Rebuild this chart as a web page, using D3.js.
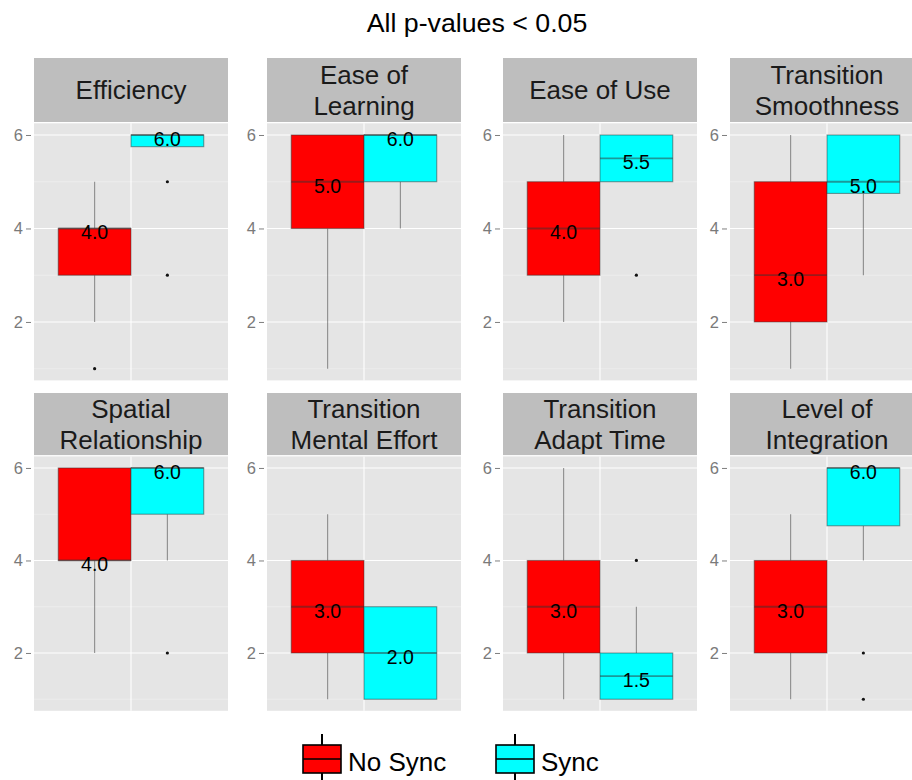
<!DOCTYPE html>
<html><head><meta charset="utf-8">
<script src="https://cdn.jsdelivr.net/npm/d3@7/dist/d3.min.js"></script>
<style>body{margin:0;background:#fff}svg{display:block;font-family:"Liberation Sans",Arial,sans-serif}</style>
</head><body><svg id="c" width="912" height="780"></svg>
<script>
// ---------- data ----------
const chartTitle = "All p-values < 0.05";
const facets = ["Efficiency", "Ease of\nLearning", "Ease of Use", "Transition\nSmoothness",
                "Spatial\nRelationship", "Transition\nMental Effort", "Transition\nAdapt Time", "Level of\nIntegration"];
const groups = ["No Sync", "Sync"];
// [lower whisker, Q1, median, Q3, upper whisker]
const noSyncStats = [[2,3,4,4,5],[1,4,5,6,6],[2,3,4,5,6],[1,2,3,5,6],
                     [2,4,4,6,6],[1,2,3,4,5],[1,2,3,4,6],[1,2,3,4,5]];
const syncStats   = [[5.75,5.75,6,6,6],[4,5,6,6,6],[5,5,5.5,6,6],[3,4.75,5,6,6],
                     [4,5,6,6,6],[1,1,2,3,3],[1,1,1.5,2,3],[4,4.75,6,6,6]];
const noSyncOutliers = [[1],[],[],[],[],[],[],[]];
const syncOutliers   = [[5,3],[],[3],[],[2],[],[4],[2,1]];
const yTicks = [2,4,6];
const yMinorTicks = [1,3,5];
const yDomain = [0.75, 6.25];

// ---------- layout / style ----------
const groupColors = ["#ff0000", "#00ffff"];
const colCenters = [131, 364, 600, 827];
const halfW = 97;
const rowsLayout = [
  {stripTop: 58, panelTop: 123.3, panelBottom: 380.4},
  {stripTop: 393, panelTop: 456.4, panelBottom: 710.8}
];
const lineCol = "rgba(51,51,51,0.5)";

const svg = d3.select("#c");

svg.append("text")
  .attr("transform", "translate(477,32) scale(1.07,1)")
  .attr("text-anchor", "middle")
  .attr("font-size", 25)
  .attr("fill", "#000")
  .text(chartTitle);

const statsByGroup = [noSyncStats, syncStats];
const outByGroup = [noSyncOutliers, syncOutliers];

facets.forEach((name, i) => {
  const r = Math.floor(i / 4), c = i % 4;
  const R = rowsLayout[r];
  const left = colCenters[c] - halfW, right = colCenters[c] + halfW;
  const y = d3.scaleLinear().domain(yDomain).range([R.panelBottom, R.panelTop]);
  const x = d3.scaleLinear().domain([0.4, 1.6]).range([left, right]);
  const g = svg.append("g");

  // strip
  const stripBottom = R.panelTop - 1.3;
  g.append("rect").attr("x", left).attr("y", R.stripTop)
    .attr("width", right - left).attr("height", stripBottom - R.stripTop)
    .attr("fill", "#bebebe");
  const lines = name.split("\n");
  const sc = (R.stripTop + stripBottom) / 2;
  lines.forEach((ln, k) => {
    g.append("text")
      .attr("x", colCenters[c])
      .attr("y", sc + (k - (lines.length - 1) / 2) * 31 + 9)
      .attr("text-anchor", "middle")
      .attr("font-size", 26)
      .attr("fill", "#1a1a1a")
      .text(ln);
  });

  // panel
  g.append("rect").attr("x", left).attr("y", R.panelTop)
    .attr("width", right - left).attr("height", R.panelBottom - R.panelTop)
    .attr("fill", "#e5e5e5");
  g.selectAll(".minor").data(yMinorTicks).enter().append("line")
    .attr("x1", left).attr("x2", right)
    .attr("y1", d => y(d)).attr("y2", d => y(d))
    .attr("stroke", "#f2f2f2").attr("stroke-width", 0.6);
  g.selectAll(".major").data(yTicks).enter().append("line")
    .attr("x1", left).attr("x2", right)
    .attr("y1", d => y(d)).attr("y2", d => y(d))
    .attr("stroke", "#ffffff").attr("stroke-width", 1.1);
  g.append("line").attr("x1", x(1)).attr("x2", x(1))
    .attr("y1", R.panelTop).attr("y2", R.panelBottom)
    .attr("stroke", "#ffffff").attr("stroke-width", 1.1);

  // axis
  const ax = g.append("g").attr("transform", `translate(${left - 3},0)`)
    .call(d3.axisLeft(y).tickValues(yTicks).tickSize(5).tickPadding(3).tickFormat(d3.format("d")));
  ax.select(".domain").remove();
  ax.selectAll("line").attr("stroke", "#7f7f7f");
  ax.selectAll("text").attr("fill", "#7a7a7a").attr("font-size", 16.5)
    .attr("font-family", '"Liberation Sans",Arial,sans-serif');

  // boxes
  const labels = [];
  groups.forEach((gname, gi) => {
    const [lo, q1, med, q3, hi] = statsByGroup[gi][i];
    const xc = x(1 + (gi - 0.5) * 0.45);
    const bw = x(0.45) - x(0);
    g.append("line").attr("x1", xc).attr("x2", xc).attr("y1", y(hi)).attr("y2", y(q3))
      .attr("stroke", lineCol).attr("stroke-width", 1.1);
    g.append("line").attr("x1", xc).attr("x2", xc).attr("y1", y(q1)).attr("y2", y(lo))
      .attr("stroke", lineCol).attr("stroke-width", 1.1);
    g.append("rect").attr("x", xc - bw / 2).attr("y", y(q3))
      .attr("width", bw).attr("height", Math.max(0, y(q1) - y(q3)))
      .attr("fill", groupColors[gi]).attr("stroke", lineCol).attr("stroke-width", 1.1);
    g.append("line").attr("x1", xc - bw / 2).attr("x2", xc + bw / 2)
      .attr("y1", y(med)).attr("y2", y(med))
      .attr("stroke", lineCol).attr("stroke-width", 1.8);
    outByGroup[gi][i].forEach(o => {
      g.append("circle").attr("cx", xc).attr("cy", y(o)).attr("r", 1.6).attr("fill", "#111");
    });
    labels.push({x: xc, y: y(med), t: d3.format(".1f")(med)});
  });
  labels.forEach(l => {
    g.append("text").attr("x", l.x).attr("y", l.y + 11)
      .attr("text-anchor", "middle").attr("font-size", 19.5).attr("fill", "#000")
      .text(l.t);
  });
});

// legend
const legendKeyX = [303, 496];
groups.forEach((gname, gi) => {
  const kx = legendKeyX[gi];
  const lg = svg.append("g");
  lg.append("line").attr("x1", kx + 19).attr("x2", kx + 19).attr("y1", 734).attr("y2", 790)
    .attr("stroke", "#000").attr("stroke-width", 2);
  lg.append("rect").attr("x", kx).attr("y", 745).attr("width", 38).attr("height", 28)
    .attr("fill", groupColors[gi]).attr("stroke", "#000").attr("stroke-width", 1.6);
  lg.append("line").attr("x1", kx).attr("x2", kx + 38).attr("y1", 759).attr("y2", 759)
    .attr("stroke", "#000").attr("stroke-width", 1.6);
  lg.append("text").attr("x", kx + 45).attr("y", 770.5)
    .attr("font-size", 26).attr("fill", "#000").text(gname);
});
</script>
</body></html>
